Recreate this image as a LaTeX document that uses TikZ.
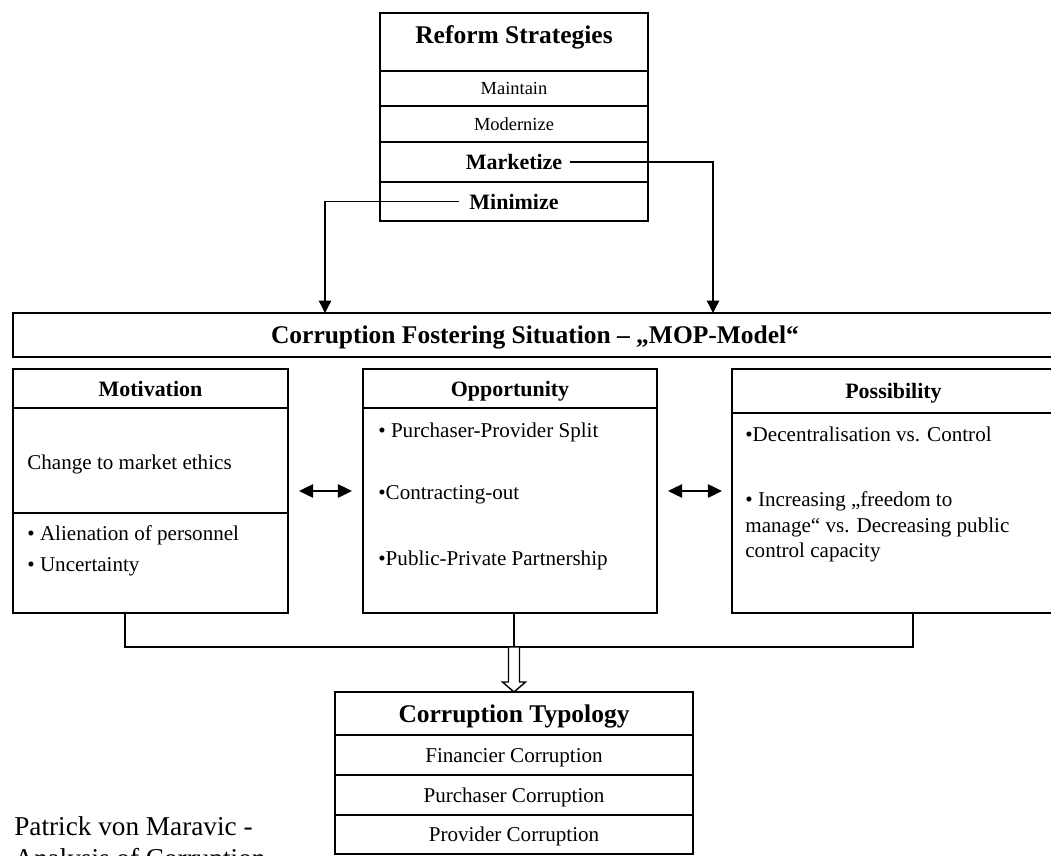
\documentclass[tikz,border=0pt]{standalone}
\usepackage{fontspec}
\setmainfont{Liberation Serif}
\usetikzlibrary{positioning,arrows.meta}

\begin{document}
\begin{tikzpicture}[
    x=0.02cm, y=-0.02cm,
    box/.style={
      draw,
      line width=0.9pt,
      inner sep=0pt,
      outer sep=0pt,
      align=center
    },
    bigtitle/.style={font=\fontsize{14.5}{17}\selectfont\bfseries, text height=12pt, text depth=2pt},
    headtext/.style={font=\fontsize{12.5}{15}\selectfont\bfseries, text height=11pt, text depth=2pt},
    rowtext/.style={font=\fontsize{10.5}{12}\selectfont},
    itemtext/.style={font=\fontsize{12}{14}\selectfont, text height=10pt, text depth=2pt},
    txt/.style={font=\fontsize{12}{14.5}\selectfont, anchor=west, align=left, inner sep=0pt},
    conn/.style={line width=0.8pt},
    arrowend/.style={-{Triangle[width=7pt,length=7pt]}},
    dblarrow/.style={
      {Triangle[width=7.5pt,length=8pt]}-{Triangle[width=7.5pt,length=8pt]},
      line width=1.1pt
    }
  ]
  \useasboundingbox (0,0) rectangle (1051,855);

  % reform strategies
  \node[box, bigtitle, minimum width=5.36cm, minimum height=1.16cm, text depth=0.38cm]
    (rsTitle) at (514,42) {Reform Strategies};
  \node[box, rowtext, minimum width=5.36cm, minimum height=0.70cm, below=0pt of rsTitle]
    (rsMaintain) {Maintain};
  \node[box, rowtext, minimum width=5.36cm, minimum height=0.72cm, below=0pt of rsMaintain]
    (rsModernize) {Modernize};
  \node[box, minimum width=5.36cm, minimum height=0.80cm, below=0pt of rsModernize]
    (rsMarketize) {};
  \node[box, minimum width=5.36cm, minimum height=0.78cm, below=0pt of rsMarketize]
    (rsMinimize) {};
  \node[headtext, inner sep=4pt] (marketize) at (rsMarketize) {Marketize};
  \node[headtext, inner sep=6pt] (minimize) at (rsMinimize) {Minimize};

  % MOP model
  \node[box, bigtitle, minimum width=20.88cm, minimum height=0.88cm] (fostering) at (535,335)
    {Corruption Fostering Situation – „MOP-Model“};

  \node[box, headtext, minimum width=5.50cm, minimum height=0.78cm] (motHead) at (150.5,388.5)
    {Motivation};
  \node[box, minimum width=5.50cm, minimum height=2.10cm, below=0pt of motHead] (motBodyA) {};
  \node[box, minimum width=5.50cm, minimum height=2.00cm, below=0pt of motBodyA] (motBodyB) {};

  \node[box, headtext, minimum width=5.88cm, minimum height=0.78cm] (oppHead) at (510,388.5)
    {Opportunity};
  \node[box, minimum width=5.88cm, minimum height=4.10cm, below=0pt of oppHead] (oppBody) {};

  \node[box, headtext, minimum width=6.46cm, minimum height=0.88cm] (posHead) at (893.5,391)
    {Possibility};
  \node[box, minimum width=6.46cm, minimum height=4.00cm, below=0pt of posHead] (posBody) {};

  \node[txt] (motChange) at (27,464) {Change to market ethics};
  \node[txt, font=\fontsize{12}{18}\selectfont] (motRisks) at (27,551)
    {• Alienation of personnel\\• Uncertainty};

  \node[txt] (oppSplit) at (378,432) {• Purchaser-Provider Split};
  \node[txt] (oppContract) at (378,495) {•Contracting-out};
  \node[txt] (oppPartner) at (378,560) {•Public-Private Partnership};

  \node[txt] (posDecentral) at (745,434) {•Decentralisation vs. Control};
  \node[txt] (posFreedom) at (745,527)
    {• Increasing „freedom to\\manage“ vs. Decreasing public\\control capacity};

  % typology
  \node[box, bigtitle, minimum width=7.16cm, minimum height=0.86cm] (typTitle) at (514,713.5)
    {Corruption Typology};
  \node[box, itemtext, minimum width=7.16cm, minimum height=0.80cm, below=0pt of typTitle]
    (typFinancier) {Financier Corruption};
  \node[box, itemtext, minimum width=7.16cm, minimum height=0.80cm, below=0pt of typFinancier]
    (typPurchaser) {Purchaser Corruption};
  \node[box, itemtext, minimum width=7.16cm, minimum height=0.78cm, below=0pt of typPurchaser]
    (typProvider) {Provider Corruption};

  \node[font=\fontsize{15.5}{18.5}\selectfont, align=left, anchor=north west, inner sep=0pt]
    (author) at (14,816) {Patrick von Maravic -\\Analysis of Corruption};

  % connectors
  \coordinate (minIn) at (325,313);
  \coordinate (mktIn) at (713,313);
  \draw[conn, arrowend] (minimize.west) -| (minIn);
  \draw[conn, arrowend] (marketize.east) -| (mktIn);

  \coordinate (linkMid) at (0,491);
  \draw[dblarrow, shorten <=0.22cm, shorten >=0.22cm]
    (motBodyA.east |- linkMid) -- (oppBody.west |- linkMid);
  \draw[dblarrow, shorten <=0.22cm, shorten >=0.2cm]
    (oppBody.east |- linkMid) -- (posBody.west |- linkMid);

  \coordinate (mergeL) at (125,647);
  \coordinate (mergeR) at (913,647);
  \draw[conn] (motBodyB.south -| mergeL) -- (mergeL) -- (mergeR) -- (posBody.south -| mergeR);
  \draw[conn] (typTitle.north |- oppBody.south) -- (typTitle.north |- mergeL);
  \draw[conn, fill=white] (typTitle.north) -- ++(-11.5,-10) -- ++(6,0) -- ++(0,-35)
    -- ++(11,0) -- ++(0,35) -- ++(6,0) -- cycle;
\end{tikzpicture}
\end{document}
